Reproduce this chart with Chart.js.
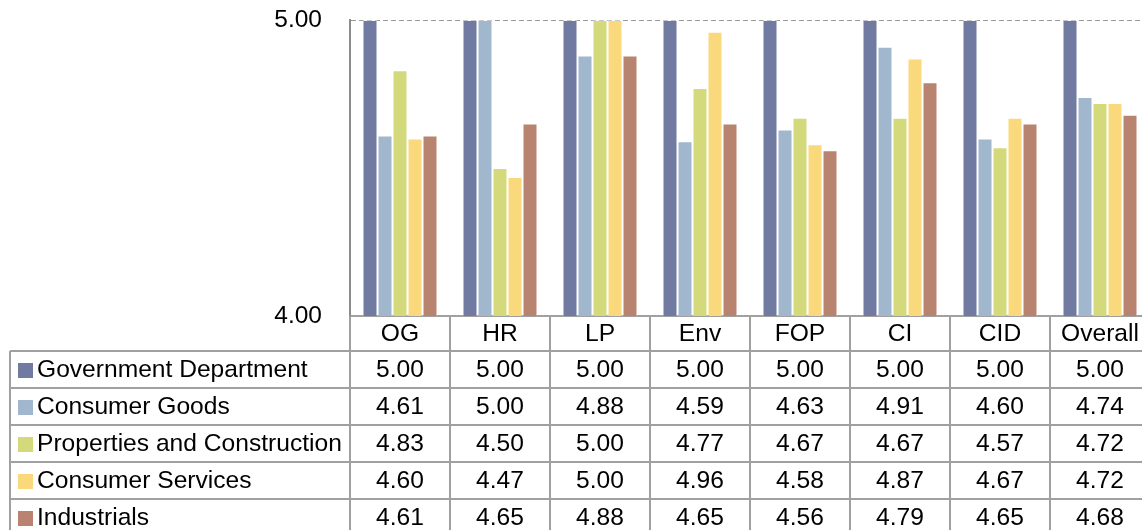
<!DOCTYPE html>
<html>
<head>
<meta charset="utf-8">
<script src="https://cdn.jsdelivr.net/npm/chart.js@4.4.0/dist/chart.umd.min.js"></script>
<style>
    html, body { margin: 0; padding: 0; background: #ffffff; overflow: hidden; }
    #wrap { position: relative; width: 1150px; height: 530px; }
</style>
</head>
<body>
<div id="wrap"><canvas id="scoreChart"></canvas></div>
<script>
// Categories and series
const categories = ['OG', 'HR', 'LP', 'Env', 'FOP', 'CI', 'CID', 'Overall'];
const yTicks = [4, 5];

const govDepartment = [5.00, 5.00, 5.00, 5.00, 5.00, 5.00, 5.00, 5.00];
const consumerGoods = [4.61, 5.00, 4.88, 4.59, 4.63, 4.91, 4.60, 4.74];
const propertiesConstruction = [4.83, 4.50, 5.00, 4.77, 4.67, 4.67, 4.57, 4.72];
const consumerServices = [4.60, 4.47, 5.00, 4.96, 4.58, 4.87, 4.67, 4.72];
const industrials = [4.61, 4.65, 4.88, 4.65, 4.56, 4.79, 4.65, 4.68];

const seriesNames = [
    'Government Department',
    'Consumer Goods',
    'Properties and Construction',
    'Consumer Services',
    'Industrials'
];
const seriesColors = ['#717aa0', '#a1b7ce', '#d4da7b', '#f9d97b', '#b8836f'];
const seriesData = [govDepartment, consumerGoods, propertiesConstruction, consumerServices, industrials];

const FONT = '"Liberation Sans", Arial, sans-serif';
const LINE = '#a0a0a0';

// Draws the data table (category header + one row per series) under the plot
const dataTablePlugin = {
    id: 'dataTable',
    afterDraw(chart) {
        const ctx = chart.ctx;
        const xScale = chart.scales.x;
        const area = chart.chartArea;
        const colW = (xScale.right - xScale.left) / categories.length;
        const headerTop = area.bottom;
        const headerH = 35;
        const rowH = 37;
        const tableLeft = 10;
        const rowsTop = headerTop + headerH;
        const bottom = chart.height + 10;

        ctx.save();
        ctx.strokeStyle = LINE;
        ctx.lineWidth = 2;

        // vertical lines between category columns
        for (let i = 0; i <= categories.length; i++) {
            const lx = Math.round(xScale.left + i * colW);
            ctx.beginPath();
            ctx.moveTo(lx, headerTop);
            ctx.lineTo(lx, bottom);
            ctx.stroke();
        }
        // left border of the series column
        ctx.beginPath();
        ctx.moveTo(tableLeft, rowsTop);
        ctx.lineTo(tableLeft, bottom);
        ctx.stroke();

        // horizontal row lines
        for (let r = 0; r < seriesNames.length; r++) {
            const ly = Math.round(rowsTop + r * rowH);
            ctx.beginPath();
            ctx.moveTo(tableLeft, ly);
            ctx.lineTo(xScale.right, ly);
            ctx.stroke();
        }

        ctx.fillStyle = '#000000';
        ctx.font = '24.6px ' + FONT;
        ctx.textBaseline = 'middle';

        // header with category names
        ctx.textAlign = 'center';
        categories.forEach((cat, i) => {
            ctx.fillText(cat, xScale.getPixelForValue(i), headerTop + headerH / 2 + 1);
        });

        // series rows
        seriesNames.forEach((name, r) => {
            const cy = rowsTop + r * rowH + rowH / 2 + 1;

            ctx.fillStyle = seriesColors[r];
            ctx.fillRect(18, Math.round(cy - 8), 15, 15);

            ctx.fillStyle = '#000000';
            ctx.textAlign = 'left';
            ctx.fillText(name, 37, cy);

            ctx.textAlign = 'center';
            seriesData[r].forEach((v, i) => {
                ctx.fillText(v.toFixed(2), xScale.getPixelForValue(i), cy);
            });
        });

        ctx.restore();
    }
};

new Chart(document.getElementById('scoreChart'), {
    type: 'bar',
    data: {
        labels: categories,
        datasets: seriesNames.map((name, i) => ({
            label: name,
            data: seriesData[i],
            backgroundColor: seriesColors[i],
            borderColor: 'rgba(255,255,255,0.45)',
            borderWidth: 1,
            categoryPercentage: 0.75,
            barPercentage: 1.0
        }))
    },
    options: {
        responsive: true,
        maintainAspectRatio: false,
        animation: false,
        layout: {
            padding: { top: 20, left: 0, right: 0, bottom: 0 }
        },
        scales: {
            x: {
                ticks: { display: false },
                grid: { display: false, drawTicks: false },
                border: { display: true, color: LINE, width: 2 },
                afterFit: scale => {
                    scale.height = 214;
                    scale.paddingLeft = 0;
                    scale.paddingRight = 0;
                }
            },
            y: {
                min: 4,
                max: 5,
                afterBuildTicks: scale => {
                    scale.ticks = yTicks.map(v => ({ value: v }));
                },
                ticks: {
                    color: '#000000',
                    padding: 28,
                    font: { family: FONT, size: 24.5 },
                    callback: value => Number(value).toFixed(2)
                },
                grid: {
                    drawTicks: false,
                    color: ctx => ctx.tick && ctx.tick.value === 5 ? '#9a9a9a' : 'rgba(0,0,0,0)',
                    lineWidth: 1
                },
                border: { display: true, color: '#8c8c8c', width: 2, dash: [5, 3] },
                afterFit: scale => {
                    scale.width = 350;
                    scale.paddingTop = 0;
                    scale.paddingBottom = 0;
                }
            }
        },
        plugins: {
            legend: { display: false },
            tooltip: { enabled: false }
        }
    },
    plugins: [dataTablePlugin]
});
</script>
</body>
</html>
